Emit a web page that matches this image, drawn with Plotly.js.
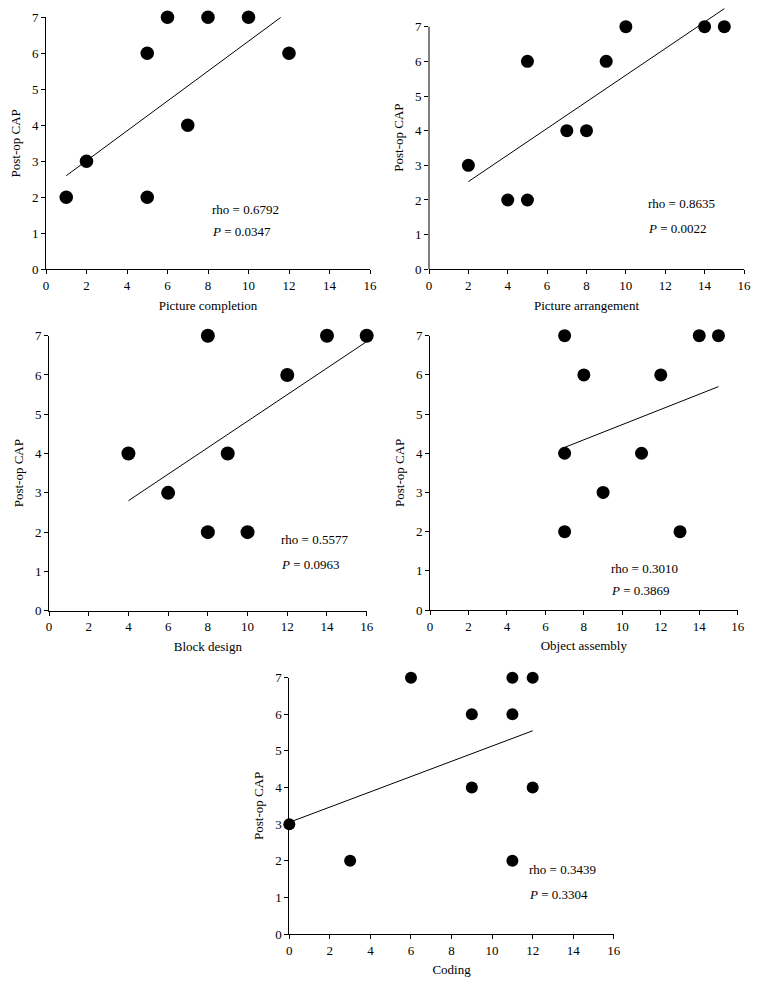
<!DOCTYPE html>
<html>
<head>
<meta charset="utf-8">
<script src="https://cdn.plot.ly/plotly-3.0.1.min.js"></script>
<style>html,body{margin:0;padding:0;background:#fff;}#chart{width:758px;height:985px;}</style>
</head>
<body>
<div id="chart"></div>
<script>
// ---- Data ----
const pcX = [1, 2, 5, 5, 6, 7, 8, 10, 12];
const pcY = [2, 3, 6, 2, 7, 4, 7, 7, 6];
const pcFitX = [1, 11.6];
const pcFitY = [2.6, 7.0];

const paX = [2, 4, 5, 5, 7, 8, 9, 10, 14, 15];
const paY = [3, 2, 2, 6, 4, 4, 6, 7, 7, 7];
const paFitX = [2, 15];
const paFitY = [2.53, 7.52];

const bdX = [4, 6, 8, 8, 9, 10, 12, 14, 16];
const bdY = [4, 3, 7, 2, 4, 2, 6, 7, 7];
const bdFitX = [4, 16];
const bdFitY = [2.8, 6.85];

const oaX = [7, 7, 7, 8, 9, 11, 12, 13, 14, 15];
const oaY = [7, 4, 2, 6, 3, 4, 6, 2, 7, 7];
const oaFitX = [7, 15];
const oaFitY = [4.15, 5.7];

const cdX = [0, 3, 6, 9, 9, 11, 11, 11, 12, 12];
const cdY = [3, 2, 7, 6, 4, 7, 6, 2, 7, 4];
const cdFitX = [0, 12];
const cdFitY = [3.05, 5.55];

const xTitles = ["Picture completion", "Picture arrangement", "Block design", "Object assembly", "Coding"];
const yTitle = "Post-op CAP";
const rhoTexts = ["rho = 0.6792", "rho = 0.8635", "rho = 0.5577", "rho = 0.3010", "rho = 0.3439"];
const pTexts = ["0.0347", "0.0022", "0.0963", "0.3869", "0.3304"];
const xTickVals = [0, 2, 4, 6, 8, 10, 12, 14, 16];
const yTickVals = [0, 1, 2, 3, 4, 5, 6, 7];

// ---- Layout helpers ----
const W = 758, H = 985;
const FONT = "Liberation Serif, Times New Roman, serif";
const panels = [
  {x: pcX, y: pcY, fx: pcFitX, fy: pcFitY, px: [46, 370], py: [269.3, 17.3], yr: [0, 7], ms: 13.5, rho: [8.1, 1.67], p: [8.1, 1.04]},
  {x: paX, y: paY, fx: paFitX, fy: paFitY, px: [429, 744], py: [269.3, 5.9], yr: [0, 7.6], ms: 13, rho: [11.0, 1.91], p: [11.0, 1.17]},
  {x: bdX, y: bdY, fx: bdFitX, fy: bdFitY, px: [49, 366.7], py: [610.7, 335.7], yr: [0, 7], ms: 14, rho: [11.58, 1.80], p: [11.58, 1.18]},
  {x: oaX, y: oaY, fx: oaFitX, fy: oaFitY, px: [430, 737.7], py: [610, 335.7], yr: [0, 7], ms: 13, rho: [9.31, 1.06], p: [9.31, 0.49]},
  {x: cdX, y: cdY, fx: cdFitX, fy: cdFitY, px: [289.3, 613.8], py: [934, 677.7], yr: [0, 7], ms: 12, rho: [11.72, 1.75], p: [11.72, 1.09]}
];

const data = [];
const layout = {
  width: W, height: H,
  margin: {l: 0, r: 0, t: 0, b: 0},
  paper_bgcolor: "#fff", plot_bgcolor: "#fff",
  showlegend: false,
  font: {family: FONT, size: 13, color: "#000"},
  annotations: [],
  shapes: []
};

panels.forEach((p, i) => {
  const n = i + 1;
  const xa = "x" + (n === 1 ? "" : n);
  const ya = "y" + (n === 1 ? "" : n);
  data.push({
    type: "scatter", mode: "lines", x: p.fx, y: p.fy, xaxis: xa, yaxis: ya,
    line: {color: "#000", width: 1}, hoverinfo: "skip"
  });
  data.push({
    type: "scatter", mode: "markers", x: p.x, y: p.y, xaxis: xa, yaxis: ya,
    marker: {color: "#000", size: p.ms}, cliponaxis: false
  });
  const axCommon = {
    showgrid: false, zeroline: false, ticks: "outside", ticklen: 4, tickwidth: 1,
    tickcolor: "#000", linecolor: "#000", linewidth: 1,
    tickfont: {family: FONT, size: 13, color: "#000"}, fixedrange: true
  };
  layout["xaxis" + (n === 1 ? "" : n)] = Object.assign({}, axCommon, {
    domain: [p.px[0] / W, p.px[1] / W], range: [0, 16],
    tickvals: xTickVals, showline: true, anchor: ya,
    title: {text: xTitles[i], font: {family: FONT, size: 13, color: "#000"}, standoff: 8}
  });
  const yShowLine = p.yr[1] === 7;
  layout["yaxis" + (n === 1 ? "" : n)] = Object.assign({}, axCommon, {
    domain: [1 - p.py[0] / H, 1 - p.py[1] / H], range: p.yr,
    tickvals: yTickVals, showline: yShowLine, anchor: xa,
    title: {text: yTitle, font: {family: FONT, size: 13, color: "#000"}, standoff: 8}
  });
  if (!yShowLine) {
    layout.shapes.push({
      type: "line", xref: xa + " domain", yref: ya, x0: 0, x1: 0, y0: 0, y1: 7,
      line: {color: "#000", width: 1}
    });
  }
  layout.annotations.push({
    xref: xa, yref: ya, x: p.rho[0], y: p.rho[1], text: rhoTexts[i],
    showarrow: false, xanchor: "left", yanchor: "middle",
    font: {family: FONT, size: 13, color: "#000"}
  });
  layout.annotations.push({
    xref: xa, yref: ya, x: p.p[0], y: p.p[1], text: "<i>P</i> = " + pTexts[i],
    showarrow: false, xanchor: "left", yanchor: "middle",
    font: {family: FONT, size: 13, color: "#000"}
  });
});

Plotly.newPlot("chart", data, layout, {displayModeBar: false, staticPlot: true});
</script>
</body>
</html>
